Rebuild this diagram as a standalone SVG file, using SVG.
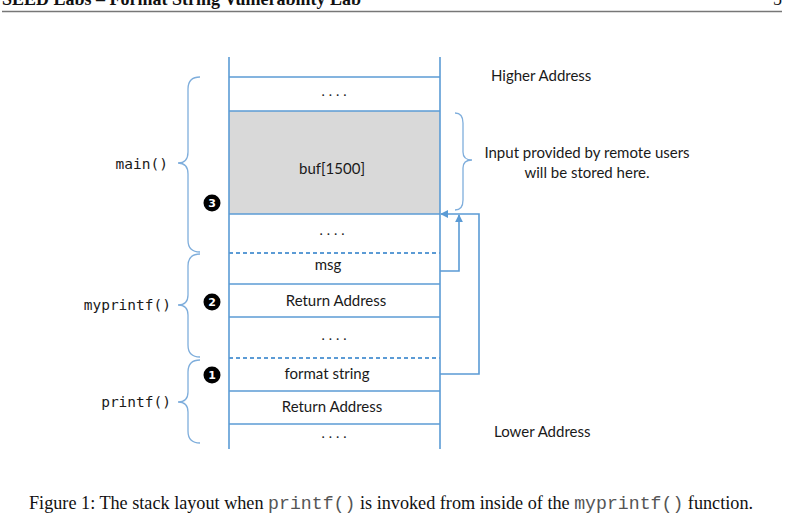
<svg xmlns="http://www.w3.org/2000/svg" width="800" height="524" viewBox="0 0 800 524">
<defs>
<style>
.ln{stroke:#5B9BD5;stroke-width:1.6;fill:none}
.ds{stroke:#5B9BD5;stroke-width:2;stroke-dasharray:4 3;fill:none}
.br{stroke:#7FAEDC;stroke-width:1.3;fill:none}
.t{font-family:Lato,"Open Sans",sans-serif;font-size:15px;fill:#1a1a1a}
.c{text-anchor:middle}
.dot{font-family:Lato,sans-serif;font-size:14px;fill:#222;letter-spacing:4px;text-anchor:middle}
.fn{font-family:"DejaVu Sans Mono",monospace;font-size:14.5px;fill:#1a1a1a;text-anchor:end}
.num{font-family:"DejaVu Sans",sans-serif;font-size:11px;font-weight:bold;fill:#fff;text-anchor:middle}
.cap{font-family:"Liberation Serif",serif;font-size:18.2px;fill:#111}
.code{font-family:"Liberation Mono",monospace;fill:#555}
</style>
<marker id="ah" viewBox="0 0 10 10" refX="9" refY="5" markerWidth="8" markerHeight="8" markerUnits="userSpaceOnUse" orient="auto">
<path d="M0,0 L10,5 L0,10 z" fill="#5B9BD5"/>
</marker>
</defs>
<rect width="800" height="524" fill="#fff"/>

<g id="header">
<text x="2" y="5" font-family="Liberation Serif,serif" font-size="18" font-weight="bold" fill="#111">SEED Labs – Format String Vulnerability Lab</text>
<text x="782" y="5" font-family="Liberation Serif,serif" font-size="18" fill="#111" text-anchor="end">5</text>
<line x1="2" y1="11.5" x2="782" y2="11.5" stroke="#777" stroke-width="1.6"/>
</g>

<g id="stack">
<rect x="229" y="111" width="211" height="103" fill="#D9D9D9"/>
<line class="ln" x1="229" y1="57" x2="229" y2="449"/>
<line class="ln" x1="440" y1="57" x2="440" y2="449"/>
<line class="ln" x1="229" y1="77" x2="440" y2="77"/>
<line class="ln" x1="229" y1="111" x2="440" y2="111"/>
<line class="ln" x1="229" y1="214" x2="440" y2="214"/>
<line class="ds" x1="229" y1="253" x2="440" y2="253"/>
<line class="ln" x1="229" y1="284" x2="440" y2="284"/>
<line class="ln" x1="229" y1="317" x2="440" y2="317"/>
<line class="ds" x1="229" y1="358" x2="440" y2="358"/>
<line class="ln" x1="229" y1="391" x2="440" y2="391"/>
<line class="ln" x1="229" y1="424" x2="440" y2="424"/>
</g>

<g id="cell-top"><text class="dot" x="336" y="96">....</text></g>
<g id="cell-buf"><text class="t c" x="332" y="174">buf[1500]</text></g>
<g id="cell-dots2"><text class="dot" x="334" y="235">....</text></g>
<g id="cell-msg"><text class="t c" x="328" y="270">msg</text></g>
<g id="cell-ret1"><text class="t c" x="336" y="306">Return Address</text></g>
<g id="cell-dots3"><text class="dot" x="336" y="340">....</text></g>
<g id="cell-fmt"><text class="t c" x="327" y="379">format string</text></g>
<g id="cell-ret2"><text class="t c" x="332" y="412">Return Address</text></g>
<g id="cell-dots4"><text class="dot" x="336" y="438">....</text></g>

<g id="labels">
<text class="t" x="491" y="81">Higher Address</text>
<text class="t c" x="587" y="158">Input provided by remote users</text>
<text class="t c" x="587" y="178">will be stored here.</text>
<text class="t" x="494" y="437">Lower Address</text>
</g>

<g id="braces">
<path class="br" d="M200,77 Q188,77 188,89 L188,152 Q188,163 178,163 Q188,163 188,174 L188,240 Q188,252 200,252"/>
<path class="br" d="M200,254 Q188,254 188,266 L188,295 Q188,305 178,305 Q188,305 188,315 L188,345 Q188,357 200,357"/>
<path class="br" d="M200,360 Q188,360 188,372 L188,392 Q188,402 178,402 Q188,402 188,412 L188,431 Q188,443 200,443"/>
<path class="br" d="M455,113 Q463,113 463,123 L463,152 Q463,160 472,160 Q463,160 463,168 L463,200 Q463,210 455,210"/>
</g>

<g id="func-main"><text class="fn" x="168" y="169">main()</text></g>
<g id="func-myprintf"><text class="fn" x="171" y="310">myprintf()</text></g>
<g id="func-printf"><text class="fn" x="171" y="407">printf()</text></g>

<g id="badge3"><circle cx="212" cy="203" r="8.5" fill="#000"/><text class="num" x="212" y="207">3</text></g>
<g id="badge2"><circle cx="212" cy="302" r="8.5" fill="#000"/><text class="num" x="212" y="306">2</text></g>
<g id="badge1"><circle cx="212" cy="375" r="8.5" fill="#000"/><text class="num" x="212" y="379">1</text></g>

<g id="connectors">
<polyline class="ln" points="440,374 479,374 479,214 441,214" marker-end="url(#ah)"/>
<polyline class="ln" points="440,271 459,271 459,215" marker-end="url(#ah)"/>
</g>

<g id="caption">
<text class="cap" x="29" y="509">Figure 1: The stack layout when <tspan class="code">printf()</tspan> is invoked from inside of the <tspan class="code">myprintf()</tspan> function.</text>
</g>
</svg>
